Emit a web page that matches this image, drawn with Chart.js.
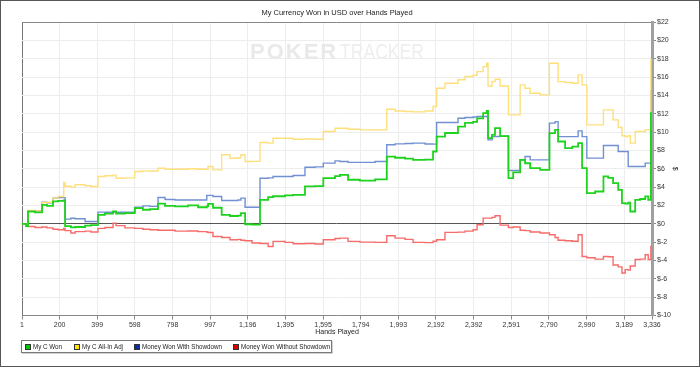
<!DOCTYPE html>
<html lang="en">
  <head>
    <meta charset="utf-8" />
    <title>My Currency Won</title>
    <script src="https://cdn.jsdelivr.net/npm/chart.js@4.4.1/dist/chart.umd.min.js"></script>
    <style>
      * { margin: 0; padding: 0; }
      body { background: #fff; }
      #chart { display: block; }
    </style>
  </head>
  <body>
    <canvas id="chart" width="700" height="367"></canvas>

    <script>
      // hands played (each value holds until the next hand in the list)
      const hands = [1, 22, 33, 70, 103, 107, 133, 165, 192, 222, 229, 260, 282, 335, 366, 403, 440, 483, 499, 546,
        598, 641, 679, 721, 758, 811, 880, 933, 979, 986, 1012, 1058, 1102, 1144, 1160, 1182, 1219, 1261, 1304, 1330,
        1393, 1436, 1499, 1552, 1596, 1658, 1684, 1727, 1790, 1870, 1932, 1976, 2029, 2071, 2135, 2177, 2196, 2240, 2309, 2346,
        2389, 2410, 2442, 2461, 2468, 2489, 2505, 2532, 2576, 2601, 2638, 2664, 2691, 2744, 2793, 2823, 2839, 2876, 2914, 2945,
        2966, 2991, 3035, 3079, 3104, 3130, 3157, 3177, 3194, 3210, 3221, 3247, 3273, 3300, 3316, 3330, 3336];

      const myCWon = [0, -0.25, 1.34, 1.25, 1.25, 2.07, 1.96, 2.45, 2.5, 2.55,
        -0.25, -0.4, -0.35, -0.2, -0.15, 0.98, 1.1, 1.34, 1.1, 1.16,
        1.71, 1.53, 1.6, 2.2, 1.95, 1.9, 2.0, 1.8, 1.9, 2.18,
        1.75, 0.98, 0.85, 0.9, 1.16, -0.05, -0.1, 2.6, 2.9, 3.0,
        3.1, 3.16, 4.07, 4.1, 4.97, 5.2, 5.34, 4.8, 4.7, 4.85,
        7.33, 7.2, 7.1, 6.97, 7.0, 7.88, 9.51, 9.9, 10.6, 11.0,
        11.1, 11.5, 12.06, 12.31, 9.33, 9.69, 10.42, 9.55, 4.97, 5.6,
        6.97, 6.6, 6.06, 5.88, 9.88, 10.24, 8.97, 8.24, 8.42, 8.79,
        6.06, 3.34, 3.52, 5.16, 5.0, 4.43, 3.7, 2.25, 2.2, 2.3,
        1.34, 2.6, 2.7, 2.98, 2.61, 12.06, 12.06];

      const allInAdj = [0, 0, 1.45, 1.4, 1.4, 2.32, 2.35, 2.8, 2.98, 4.5,
        4.1, 4.0, 4.25, 4.15, 4.07, 5.16, 5.23, 5.3, 4.97, 5.0,
        5.7, 5.77, 5.75, 6.06, 5.95, 5.95, 6.0, 5.95, 5.95, 6.24,
        5.88, 7.52, 7.15, 7.2, 7.52, 6.79, 6.8, 8.86, 8.79, 9.33,
        9.33, 9.22, 9.25, 9.22, 10.06, 10.42, 10.42, 10.3, 10.24, 10.24,
        12.49, 12.3, 12.25, 12.2, 12.3, 12.78, 14.78, 15.32, 15.7, 16.05,
        16.2, 16.59, 17.14, 17.5, 15.03, 15.5, 15.76, 15.03, 11.87, 11.87,
        15.14, 14.78, 14.23, 14.05, 17.5, 17.5, 15.5, 15.4, 15.32, 16.23,
        15.14, 10.78, 10.78, 12.42, 12.42, 11.33, 10.5, 9.59, 9.51, 9.6,
        8.79, 10.06, 10.06, 10.24, 10.24, 17.9, 17.9];

      const withShowdown = [0, 0, 1.42, 1.4, 1.4, 2.36, 2.3, 2.8, 2.85, 2.85,
        0.51, 0.6, 0.55, 0.25, 0.25, 1.27, 1.25, 1.27, 1.25, 1.25,
        1.82, 1.95, 1.9, 2.87, 2.65, 2.6, 2.6, 2.6, 3.09, 3.1,
        2.98, 2.54, 2.54, 2.6, 2.8, 1.8, 1.8, 4.97, 5.0, 5.16,
        5.16, 5.27, 6.17, 6.2, 6.61, 6.86, 6.79, 6.7, 6.7, 6.79,
        8.61, 8.71, 8.75, 8.79, 8.7, 8.68, 11.04, 11.04, 11.51, 11.58,
        11.65, 11.69, 11.69, 11.7, 9.15, 9.5, 9.51, 9.55, 5.81, 5.81,
        6.97, 7.33, 6.97, 6.97, 10.97, 11.14, 9.5, 9.5, 9.5, 10.13,
        9.5, 7.16, 7.16, 8.53, 8.53, 8.53, 7.88, 7.88, 7.88, 6.25,
        6.25, 6.25, 6.25, 6.61, 6.61, 14.5, 14.5];

      const withoutShowdown = [0, 0, -0.3, -0.4, -0.4, -0.35, -0.45, -0.6, -0.65, -0.5,
        -0.75, -1.0, -0.85, -0.8, -0.9, -0.5, -0.4, 0.07, -0.2, -0.45,
        -0.5, -0.6, -0.65, -0.7, -0.7, -0.8, -0.78, -0.85, -0.9, -0.95,
        -1.38, -1.5, -1.74, -1.7, -1.8, -1.85, -2.1, -2.15, -2.47, -1.92,
        -2.03, -2.18, -2.15, -2.2, -1.74, -1.6, -1.56, -1.92, -2.0, -2.03,
        -1.31, -1.56, -1.7, -2.03, -2.05, -1.9, -1.74, -0.94, -0.91, -0.8,
        -0.65, -0.11, 0.62, 0.62, 0.62, 0.7, 0.87, -0.15, -0.4, -0.35,
        -0.7, -0.75, -0.9, -1.0, -1.2, -1.5, -1.8, -1.85, -1.9, -1.2,
        -3.56, -3.7, -3.85, -3.56, -3.6, -4.5, -4.7, -5.37, -5.0, -5.05,
        -4.6, -3.9, -3.85, -3.38, -3.9, -2.47, -2.47];

      const seriesNames = ["My C Won", "My C All-In Adj", "Money Won With Showdown", "Money Won Without Showdown"];
      const xTicks = [1, 200, 399, 598, 798, 997, 1196, 1395, 1595, 1794, 1993, 2192, 2392, 2591, 2790, 2990, 3189, 3336];

      const FONT = '"Liberation Sans", Arial, sans-serif';
      const lineColors = ["#1ed21e", "#fde07c", "#7090d2", "#f76b6b"];
      const legendColors = ["#00c800", "#ffe600", "#0a2f9a", "#e00000"];

      const toPoints = (vals) => hands.map((h, i) => ({ x: h, y: vals[i] }));

      // title, watermark, legend box and outer frame
      const decor = {
        id: "decor",
        beforeDatasetsDraw(chart) {
          const ctx = chart.ctx;
          ctx.save();
          ctx.textBaseline = "alphabetic";
          ctx.textAlign = "left";
          ctx.font = "bold 22px " + FONT;
          ctx.fillStyle = "#e9e9e9";
          ctx.letterSpacing = "2px";
          ctx.fillText("POKER", 250, 59);
          ctx.letterSpacing = "0px";
          ctx.font = "22px " + FONT;
          ctx.fillStyle = "#eeeeee";
          ctx.fillText("TRACKER", 340, 59, 84);
          ctx.restore();
        },
        afterDraw(chart) {
          const ctx = chart.ctx;
          ctx.save();
          ctx.fillStyle = "#222";
          ctx.font = "7.5px " + FONT;
          ctx.textAlign = "center";
          ctx.textBaseline = "middle";
          ctx.fillText("My Currency Won in USD over Hands Played", 337, 13);

          // legend
          ctx.strokeStyle = "#7a7a7a";
          ctx.lineWidth = 1;
          ctx.strokeRect(21.5, 340.5, 310, 12);
          ctx.strokeStyle = "#d0d0d0";
          ctx.beginPath();
          ctx.moveTo(22, 353.5); ctx.lineTo(332.5, 353.5); ctx.lineTo(332.5, 341);
          ctx.stroke();
          const itemX = [25, 74, 134, 233];
          const itemW = [29, 41, 80, 89];
          ctx.textAlign = "left";
          ctx.font = "7px " + FONT;
          chart.data.datasets.forEach((ds, i) => {
            ctx.fillStyle = legendColors[i];
            ctx.fillRect(itemX[i], 344, 5, 5);
            ctx.strokeStyle = "#333";
            ctx.strokeRect(itemX[i] + 0.5, 344.5, 5, 5);
            ctx.fillStyle = "#222";
            ctx.fillText(ds.label, itemX[i] + 8, 347, itemW[i]);
          });

          // outer frame
          ctx.strokeStyle = "#555";
          ctx.strokeRect(0.5, 0.5, 699, 366);
          ctx.restore();
        },
      };

      new Chart(document.getElementById("chart"), {
        type: "line",
        plugins: [decor],
        data: {
          datasets: [myCWon, allInAdj, withShowdown, withoutShowdown].map((vals, i) => ({
            label: seriesNames[i],
            data: toPoints(vals),
            borderColor: lineColors[i],
            borderWidth: i === 0 ? 1.8 : 1.4,
            pointRadius: 0,
            stepped: true,
          })),
        },
        options: {
          responsive: false,
          animation: false,
          devicePixelRatio: 1,
          layout: { padding: { left: 22, top: 22, right: 0, bottom: 31.5 } },
          plugins: {
            legend: { display: false },
            title: { display: false },
            tooltip: { enabled: false },
          },
          scales: {
            x: {
              type: "linear",
              min: 1,
              max: 3336,
              afterBuildTicks: (s) => { s.ticks = xTicks.map((v) => ({ value: v })); },
              afterFit: (s) => { s.height = 20; },
              grid: {
                color: (c) => (c.tick && c.tick.value === 1 ? "#777" : "#ededed"),
                tickColor: "#888",
                tickLength: 4,
              },
              border: { color: "#888", width: 1 },
              ticks: {
                autoSkip: false,
                maxRotation: 0,
                padding: 1,
                color: "#333",
                font: { family: FONT, size: 7 },
                callback: (v) => Number(v).toLocaleString("en-US"),
              },
              title: {
                display: true,
                text: "Hands Played",
                color: "#222",
                font: { family: FONT, size: 7 },
                padding: { top: 0, bottom: -1 },
              },
            },
            y: {
              position: "right",
              min: -10,
              max: 22,
              afterFit: (s) => { s.width = 48; },
              grid: {
                color: (c) => {
                  const v = c.tick && c.tick.value;
                  if (v === 0) return "#555";
                  if (v === 22) return "#888";
                  return "#ededed";
                },
                tickColor: "#888",
                tickLength: 4,
              },
              border: { color: "#a0a0a0", width: 3 },
              ticks: {
                stepSize: 2,
                padding: 1,
                color: "#333",
                font: { family: FONT, size: 7 },
                callback: (v) => "$" + v,
              },
              title: {
                display: true,
                text: "$",
                color: "#222",
                font: { family: FONT, size: 7 },
                padding: { top: 21, bottom: 0 },
              },
            },
          },
        },
      });
    </script>
  </body>
</html>
